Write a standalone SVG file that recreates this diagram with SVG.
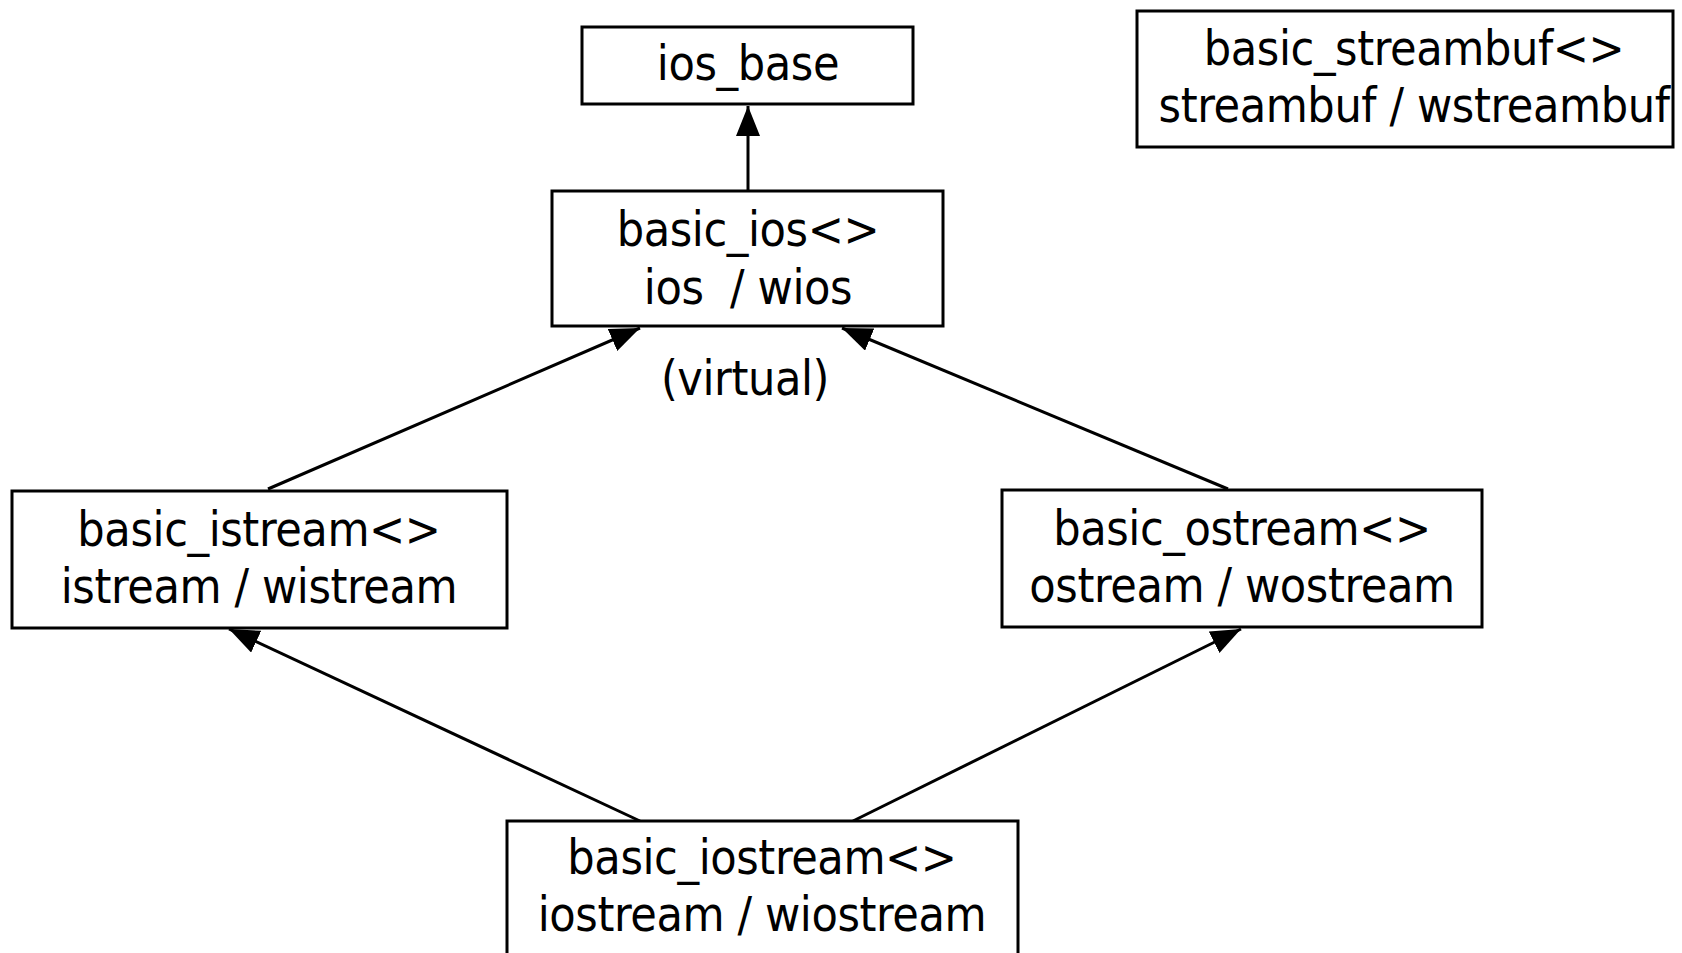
<svg xmlns="http://www.w3.org/2000/svg" width="1682" height="953" viewBox="0 0 1682 953">
<defs>
<style>
.box{fill:#fff;stroke:#000;stroke-width:3}
.t{font-family:"DejaVu Sans Condensed","DejaVu Sans",sans-serif;font-stretch:condensed;font-size:48px;letter-spacing:-0.4px;fill:#000;text-anchor:middle}
.c{stroke:#000;stroke-width:3;fill:none;marker-end:url(#ah)}
</style>
<marker id="ah" markerUnits="userSpaceOnUse" markerWidth="32" markerHeight="26" refX="30" refY="12" orient="auto">
<path d="M0,0 L30,12 L0,24 Z" fill="#000"/>
</marker>
</defs>
<rect width="1682" height="953" fill="#fff"/>
<g id="connectors">
<line class="c" x1="748" y1="191" x2="748" y2="106"/>
<line class="c" x1="268" y1="489" x2="640" y2="328"/>
<line class="c" x1="1228" y1="489" x2="842" y2="328"/>
<line class="c" x1="640" y1="821" x2="229" y2="629"/>
<line class="c" x1="853" y1="821" x2="1241" y2="629"/>
</g>
<g id="ios_base">
<rect class="box" x="582" y="27" width="331" height="77"/>
<text class="t" x="748" y="80">ios_base</text>
</g>
<g id="basic_ios">
<rect class="box" x="552" y="191" width="391" height="135"/>
<text class="t" x="748" y="246">basic_ios&lt;&gt;</text>
<text class="t" x="748" y="304" xml:space="preserve">ios  / wios</text>
</g>
<text id="virtual" class="t" x="745" y="395">(virtual)</text>
<g id="basic_streambuf">
<rect class="box" x="1137" y="11" width="536" height="136"/>
<text class="t" x="1414" y="65">basic_streambuf&lt;&gt;</text>
<text class="t" x="1414" y="122">streambuf / wstreambuf</text>
</g>
<g id="basic_istream">
<rect class="box" x="12" y="491" width="495" height="137"/>
<text class="t" x="259" y="546">basic_istream&lt;&gt;</text>
<text class="t" x="259" y="603">istream / wistream</text>
</g>
<g id="basic_ostream">
<rect class="box" x="1002" y="490" width="480" height="137"/>
<text class="t" x="1242" y="545">basic_ostream&lt;&gt;</text>
<text class="t" x="1242" y="602">ostream / wostream</text>
</g>
<g id="basic_iostream">
<rect class="box" x="507" y="821" width="511" height="160"/>
<text class="t" x="762" y="874">basic_iostream&lt;&gt;</text>
<text class="t" x="762" y="931">iostream / wiostream</text>
</g>
</svg>
